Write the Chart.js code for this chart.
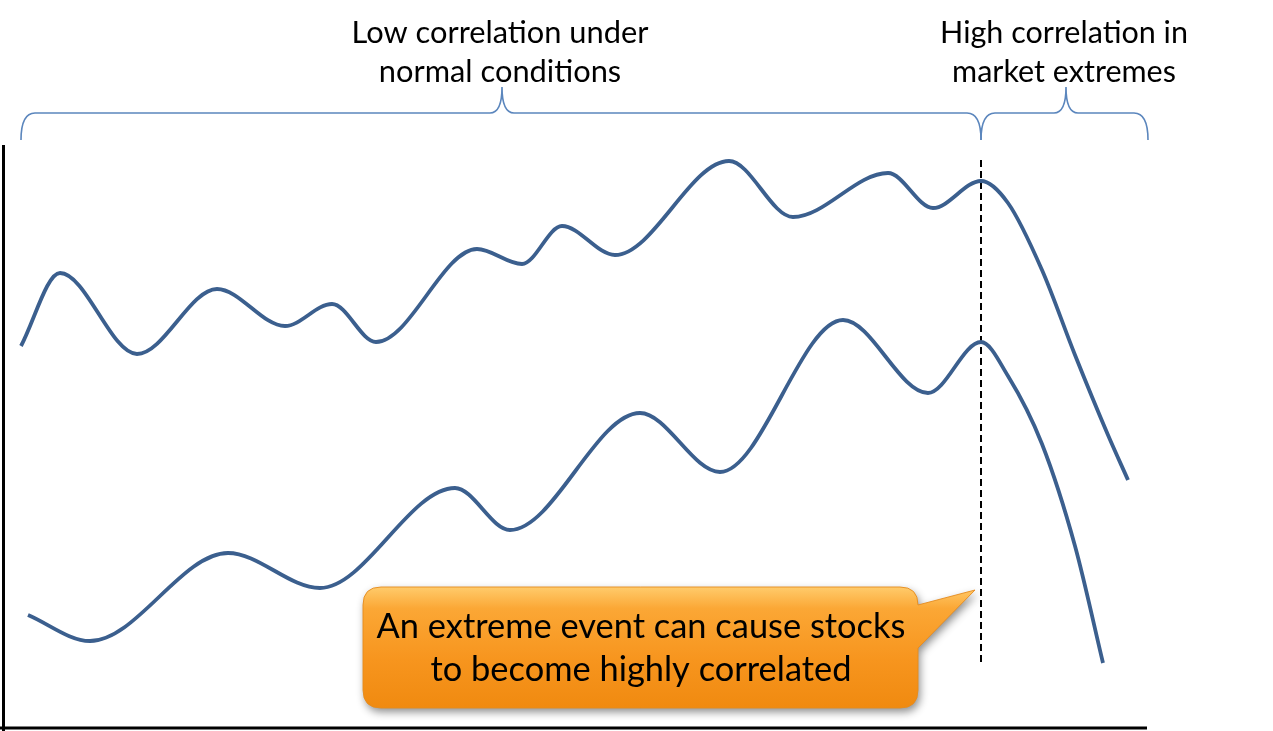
<!DOCTYPE html>
<html>
<head>
<meta charset="utf-8">
<script src="https://cdn.jsdelivr.net/npm/chart.js@4.4.1/dist/chart.umd.min.js"></script>
<style>
html,body{margin:0;padding:0;background:#fff;overflow:hidden;}
#wrap{width:1273px;height:731px;position:relative;}
</style>
</head>
<body>
<div id="wrap"><canvas id="c" width="1273" height="731"></canvas></div>
<script>
// ---- data (x = time position, y = price level) ----
const upperX = [21, 60, 137, 217, 285, 332, 376, 477, 522, 562, 615, 729, 793, 888, 933, 981, 1008, 1042, 1075, 1108, 1128];
const upperY = [385, 458, 377, 442, 405, 427, 389, 482, 467, 505, 476, 570, 514, 558, 523, 550, 528, 461, 376, 296, 251];
const lowerX = [28, 90, 228, 320, 455, 510, 640, 720, 843, 928, 981, 1008, 1042, 1075, 1103];
const lowerY = [116, 90, 178, 143, 243, 201, 318, 259, 411, 338, 389, 355, 287, 185, 68];
const eventX = 981;
const braceRanges = [[21, 981], [981, 1148]];
const braceLabels = [["Low correlation under", "normal conditions"], ["High correlation in", "market extremes"]];
const calloutLines = ["An extreme event can cause stocks", "to become highly correlated"];

const FONT = "Lato, 'Open Sans', sans-serif";
const lineColor = "#3B5F8E";

function fitFont(ctx, text, target, base) {
  ctx.font = base + "px " + FONT;
  const w = ctx.measureText(text).width;
  return base * target / w;
}

const decor = {
  id: 'decor',
  beforeDatasetsDraw(chart) {
    const {ctx, chartArea: a, scales: {x}} = chart;
    ctx.save();
    // axes
    ctx.strokeStyle = '#000';
    ctx.lineWidth = 3;
    ctx.beginPath();
    ctx.moveTo(a.left + 0.5, a.top);
    ctx.lineTo(a.left + 0.5, 731);
    ctx.moveTo(0, a.bottom);
    ctx.lineTo(a.right, a.bottom);
    ctx.stroke();
    // dashed event line
    const ex = x.getPixelForValue(eventX);
    ctx.setLineDash([7, 4]);
    ctx.lineWidth = 2;
    ctx.beginPath();
    ctx.moveTo(ex, 160);
    ctx.lineTo(ex, 665);
    ctx.stroke();
    ctx.setLineDash([]);
    ctx.restore();
  },
  afterDatasetsDraw(chart) {
    const {ctx, scales: {x}} = chart;
    ctx.save();
    // braces
    ctx.strokeStyle = '#5B86BD';
    ctx.lineWidth = 1.6;
    const yEnd = 140, yMid = 113, yTip = 87, r = 14;
    braceRanges.forEach((rg, i) => {
      const x0 = x.getPixelForValue(rg[0]);
      const x1 = x.getPixelForValue(rg[1]);
      const xm = i === 0 ? 502 : 1066;
      ctx.beginPath();
      ctx.moveTo(x0, yEnd);
      ctx.quadraticCurveTo(x0, yMid, x0 + r, yMid);
      ctx.lineTo(xm - 12, yMid);
      ctx.quadraticCurveTo(xm, yMid, xm, yTip);
      ctx.quadraticCurveTo(xm, yMid, xm + 12, yMid);
      ctx.lineTo(x1 - r, yMid);
      ctx.quadraticCurveTo(x1, yMid, x1, yEnd);
      ctx.stroke();
      // labels
      ctx.fillStyle = '#000';
      ctx.textAlign = 'center';
      ctx.textBaseline = 'middle';
      const widths = i === 0 ? [297, 242] : [248, 227];
      const sz = fitFont(ctx, braceLabels[i][0], widths[0], 28);
      ctx.font = sz + "px " + FONT;
      ctx.fillText(braceLabels[i][0], xm - 2, 33);
      ctx.fillText(braceLabels[i][1], xm - 2, 72);
    });

    // callout
    const L = 363, T = 587, R = 918, B = 708, rad = 18;
    ctx.save();
    ctx.shadowColor = 'rgba(0,0,0,0.45)';
    ctx.shadowBlur = 8;
    ctx.shadowOffsetX = 2;
    ctx.shadowOffsetY = 4;
    const g = ctx.createLinearGradient(0, T, 0, B);
    g.addColorStop(0, '#FFCB6B');
    g.addColorStop(0.18, '#FBA735');
    g.addColorStop(0.6, '#F7951E');
    g.addColorStop(1, '#F08A10');
    ctx.fillStyle = g;
    ctx.beginPath();
    ctx.moveTo(L + rad, T);
    ctx.lineTo(R - rad, T);
    ctx.quadraticCurveTo(R, T, R, T + rad);
    ctx.lineTo(R, 605);
    ctx.lineTo(975, 590);
    ctx.lineTo(R, 648);
    ctx.lineTo(R, B - rad);
    ctx.quadraticCurveTo(R, B, R - rad, B);
    ctx.lineTo(L + rad, B);
    ctx.quadraticCurveTo(L, B, L, B - rad);
    ctx.lineTo(L, T + rad);
    ctx.quadraticCurveTo(L, T, L + rad, T);
    ctx.closePath();
    ctx.fill();
    ctx.restore();
    ctx.strokeStyle = 'rgba(230,140,30,0.9)';
    ctx.lineWidth = 1;
    ctx.stroke();

    ctx.fillStyle = '#000';
    ctx.textAlign = 'center';
    ctx.textBaseline = 'middle';
    const cs = fitFont(ctx, calloutLines[0], 529, 30);
    ctx.font = cs + "px " + FONT;
    ctx.fillText(calloutLines[0], 641, 627);
    ctx.fillText(calloutLines[1], 641, 670);
    ctx.restore();
  }
};

const mk = (xs, ys) => xs.map((v, i) => ({x: v, y: ys[i]}));

new Chart(document.getElementById('c'), {
  type: 'line',
  data: {
    datasets: [
      {label: 'Stock A', data: mk(upperX, upperY), borderColor: lineColor, borderWidth: 3.8,
       pointRadius: 0, cubicInterpolationMode: 'monotone', fill: false, clip: false},
      {label: 'Stock B', data: mk(lowerX, lowerY), borderColor: lineColor, borderWidth: 3.8,
       pointRadius: 0, cubicInterpolationMode: 'monotone', fill: false, clip: false}
    ]
  },
  options: {
    responsive: false,
    animation: false,
    layout: {padding: {left: 3, right: 126, top: 145, bottom: 3}},
    plugins: {legend: {display: false}, tooltip: {enabled: false}},
    scales: {
      x: {type: 'linear', min: 3, max: 1147, display: false},
      y: {type: 'linear', min: 3, max: 586, display: false}
    }
  },
  plugins: [decor]
});
</script>
</body>
</html>
